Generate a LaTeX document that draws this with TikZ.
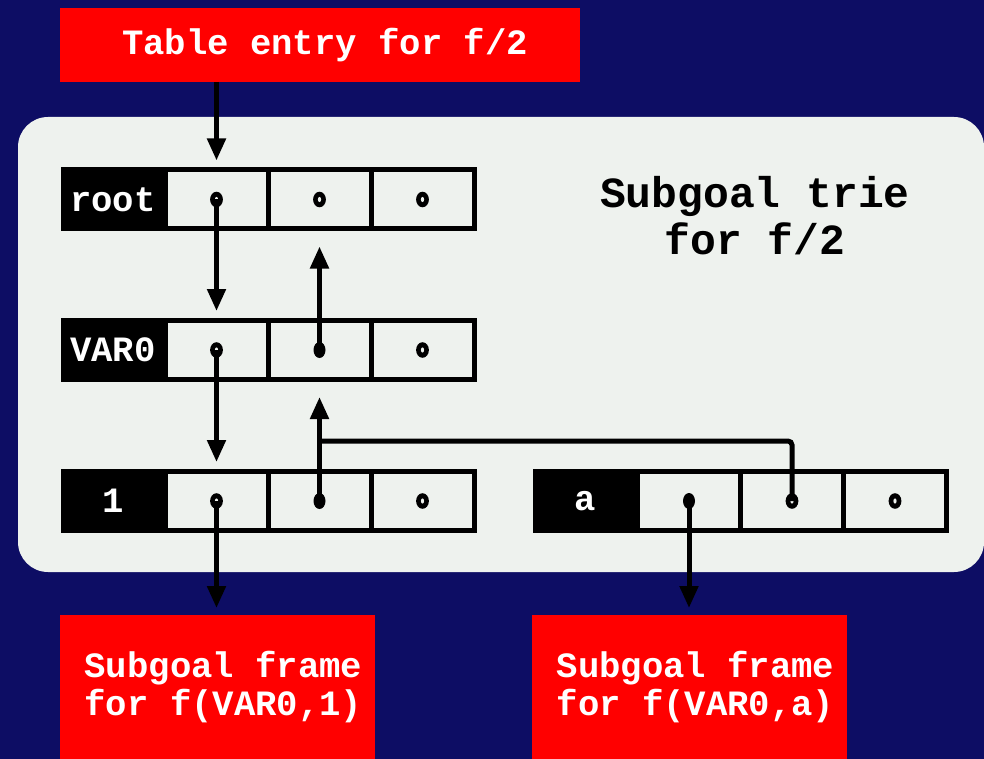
\documentclass[tikz,border=0pt]{standalone}
\usepackage{fontspec}
\setmainfont{Liberation Mono}
\usetikzlibrary{arrows.meta,calc}
\definecolor{navy}{RGB}{13,13,100}
\definecolor{panel}{RGB}{238,242,238}
\definecolor{redbox}{RGB}{255,0,0}
\newcommand{\fsz}{\bfseries\fontsize{17.8}{19}\selectfont}
\tikzset{
  cellbox/.style={draw=black,line width=2.5pt,fill=panel,minimum width=51.5pt,minimum height=29.5pt,inner sep=0pt,outer sep=0pt},
  labbox/.style={fill=black,text=white,font=\fsz,minimum width=52pt,minimum height=32pt,inner sep=0pt,outer sep=0pt},
  redtop/.style={fill=redbox,text=white,font=\fsz,minimum width=260pt,minimum height=37pt,inner sep=0pt,outer sep=0pt},
  redframe/.style={fill=redbox,text=white,font=\fsz,align=left,minimum width=157.5pt,minimum height=72pt,inner sep=0pt,outer sep=0pt},
  arr/.style={line width=2.5pt,-{Triangle[width=9pt,length=11pt]}},
  conn/.style={line width=2.5pt},
}
\newcommand{\ringdot}[1]{\fill[black] (#1) ellipse [x radius=3.2pt, y radius=3.9pt]; \fill[panel] (#1) ellipse [x radius=0.8pt, y radius=1.3pt];}
\newcommand{\fulldot}[1]{\fill[black] (#1) ellipse [x radius=3pt, y radius=4pt];}
\begin{document}
\begin{tikzpicture}[x=0.5pt,y=-0.5pt]
\useasboundingbox (0,0) rectangle (984,759);
\fill[navy] (0,0) rectangle (984,759);
% panel
\fill[panel, rounded corners=15pt] (18,117) rectangle (984,572);
% top red box
\node[redtop] (top) at (320,45) {\hspace*{5pt}Table entry for f/2};
% title
\node[font=\bfseries\fontsize{21.5}{23.5}\selectfont, align=center, text=black] (title) at (755,216) {Subgoal trie\\for f/2};
% rows
\node[labbox] (rl) at (113,199.5) {root};
\node[cellbox] (r1) at (216.5,199.5) {};
\node[cellbox] (r2) at (319.5,199.5) {};
\node[cellbox] (r3) at (422.5,199.5) {};
\node[labbox] (vl) at (113,350) {VAR0};
\node[cellbox] (v1) at (216.5,350) {};
\node[cellbox] (v2) at (319.5,350) {};
\node[cellbox] (v3) at (422.5,350) {};
\node[labbox] (ol) at (113,501) {1};
\node[cellbox] (o1) at (216.5,501) {};
\node[cellbox] (o2) at (319.5,501) {};
\node[cellbox] (o3) at (422.5,501) {};
\node[labbox] (al) at (585,501) {a};
\node[cellbox] (a1) at (689,501) {};
\node[cellbox] (a2) at (792,501) {};
\node[cellbox] (a3) at (895,501) {};
% bottom red boxes
\node[redframe] (f1) at (217.5,687) {\hspace*{6pt}Subgoal frame\\\hspace*{6pt}for f(VAR0,1)\rule[-2pt]{0pt}{1pt}};
\node[redframe] (f2) at (689.5,687) {\hspace*{6pt}Subgoal frame\\\hspace*{6pt}for f(VAR0,a)\rule[-2pt]{0pt}{1pt}};
% dots
\ringdot{r1.center} \ringdot{r2.center} \ringdot{r3.center}
\ringdot{v1.center} \fulldot{v2.center} \ringdot{v3.center}
\ringdot{o1.center} \fulldot{o2.center} \ringdot{o3.center}
\fulldot{a1.center} \ringdot{a2.center} \ringdot{a3.center}
% connectors
\draw[arr, shorten >=4.75pt] (top.south -| r1.center) -- (r1.north);
\draw[arr, shorten >=4.75pt] (r1.center) -- (v1.north);
\draw[arr, shorten >=8.75pt] (v2.center) -- (r2.south);
\draw[arr, shorten >=4.75pt] (v1.center) -- (o1.north);
\draw[arr, shorten >=8.75pt] (o2.center) -- (v2.south);
\coordinate (j) at ($(o2.center)+(0,-60)$);
\draw[conn, rounded corners=2pt] (a2.center) |- (j);
\draw[arr, shorten >=3.5pt] (o1.center) -- (o1.center |- f1.north);
\draw[arr, shorten >=3.5pt] (a1.center) -- (a1.center |- f2.north);
\end{tikzpicture}
\end{document}
